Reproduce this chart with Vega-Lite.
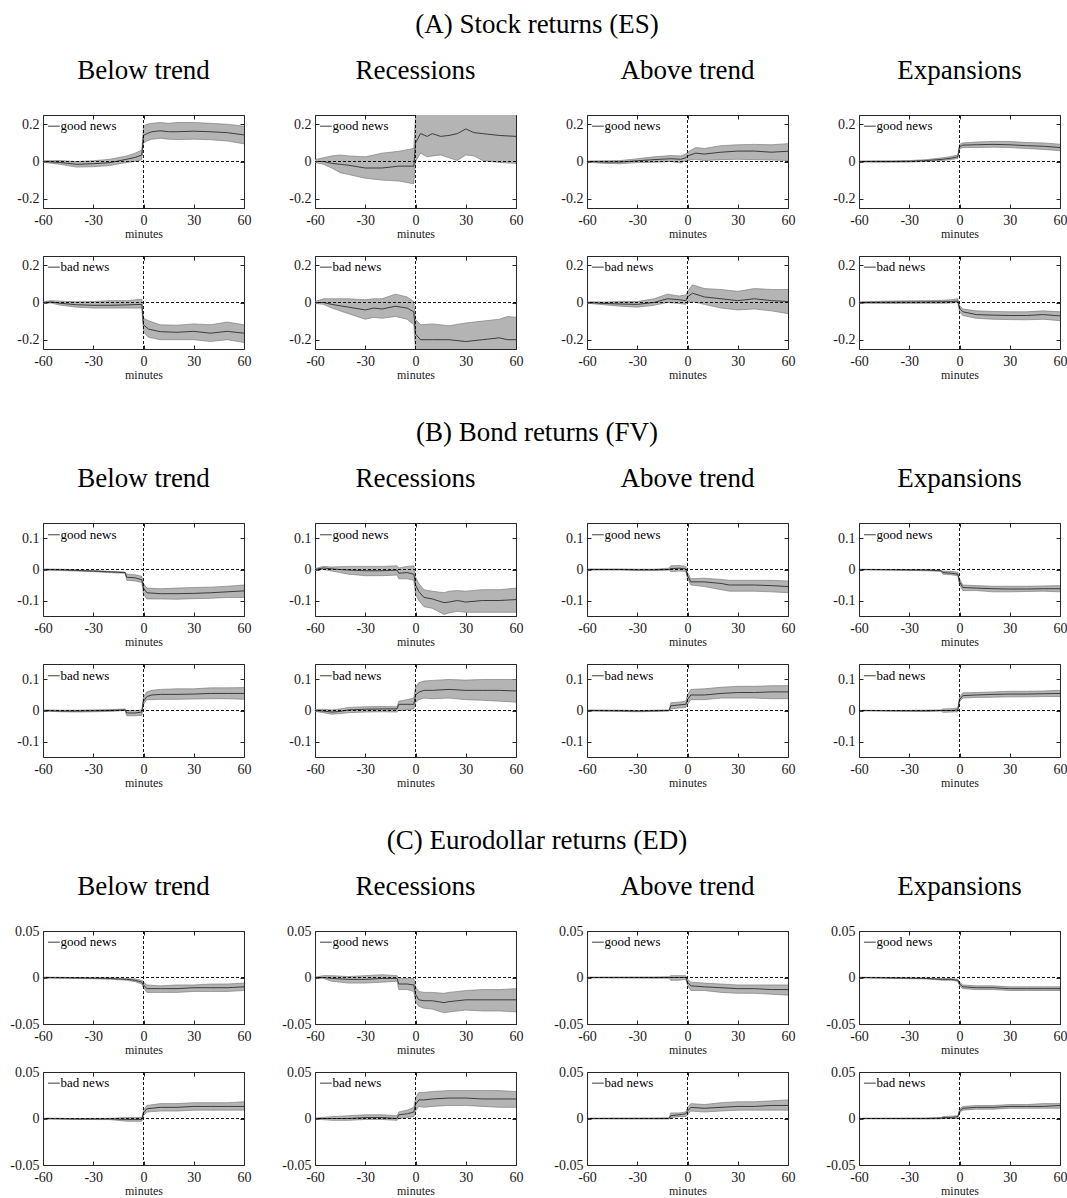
{
"$schema": "https://vega.github.io/schema/vega-lite/v6.json",
"padding": {"left": 6, "top": 11, "right": 5, "bottom": 2},
"background": "white",
"config": {
  "font": "Liberation Serif",
  "locale": {"number": {"decimal": ".", "thousands": ",", "grouping": [3], "currency": ["$", ""], "minus": "-"}},
  "view": {"stroke": "#262626", "strokeWidth": 1},
  "axis": {"domain": false, "grid": false, "ticks": true, "tickSize": -4, "tickColor": "#262626", "labelFont": "Liberation Serif", "labelFontSize": 14, "labelColor": "#1a1a1a", "labelPadding": 9, "labelFlush": false, "labelOverlap": false, "titleFont": "Liberation Serif", "titleFontWeight": "normal", "titleFontSize": 12, "titleColor": "#1a1a1a", "titlePadding": 1},
  "axisY": {"minExtent": 36, "maxExtent": 36, "labelPadding": 8},
  "header": {"labelFont": "Liberation Serif", "labelFontSize": 27, "labelColor": "black", "labelPadding": 30},
  "title": {"font": "Liberation Serif", "fontSize": 27, "fontWeight": "normal", "color": "black", "anchor": "middle", "offset": 18}
},
"spacing": 38,
"datasets": {
"A": [
{"regime":"Below trend","news":"good news","t":-60,"m":0,"lo":-0.004,"hi":0.004},
{"regime":"Below trend","news":"good news","t":-50,"m":-0.005,"lo":-0.015,"hi":0.005},
{"regime":"Below trend","news":"good news","t":-40,"m":-0.015,"lo":-0.03,"hi":0.0},
{"regime":"Below trend","news":"good news","t":-30,"m":-0.012,"lo":-0.028,"hi":0.004},
{"regime":"Below trend","news":"good news","t":-20,"m":-0.006,"lo":-0.022,"hi":0.012},
{"regime":"Below trend","news":"good news","t":-10,"m":0.012,"lo":-0.005,"hi":0.03},
{"regime":"Below trend","news":"good news","t":-5,"m":0.022,"lo":0.0,"hi":0.045},
{"regime":"Below trend","news":"good news","t":-1,"m":0.035,"lo":0.01,"hi":0.062},
{"regime":"Below trend","news":"good news","t":0,"m":0.14,"lo":0.1,"hi":0.19},
{"regime":"Below trend","news":"good news","t":2,"m":0.15,"lo":0.11,"hi":0.2},
{"regime":"Below trend","news":"good news","t":5,"m":0.16,"lo":0.12,"hi":0.205},
{"regime":"Below trend","news":"good news","t":10,"m":0.165,"lo":0.125,"hi":0.21},
{"regime":"Below trend","news":"good news","t":15,"m":0.16,"lo":0.12,"hi":0.205},
{"regime":"Below trend","news":"good news","t":20,"m":0.16,"lo":0.118,"hi":0.21},
{"regime":"Below trend","news":"good news","t":30,"m":0.163,"lo":0.12,"hi":0.21},
{"regime":"Below trend","news":"good news","t":40,"m":0.16,"lo":0.117,"hi":0.205},
{"regime":"Below trend","news":"good news","t":50,"m":0.155,"lo":0.11,"hi":0.2},
{"regime":"Below trend","news":"good news","t":60,"m":0.143,"lo":0.095,"hi":0.19},
{"regime":"Recessions","news":"good news","t":-60,"m":0,"lo":-0.005,"hi":0.01},
{"regime":"Recessions","news":"good news","t":-55,"m":0.0,"lo":-0.015,"hi":0.02},
{"regime":"Recessions","news":"good news","t":-50,"m":-0.01,"lo":-0.035,"hi":0.03},
{"regime":"Recessions","news":"good news","t":-45,"m":-0.015,"lo":-0.06,"hi":0.035},
{"regime":"Recessions","news":"good news","t":-40,"m":-0.02,"lo":-0.07,"hi":0.03},
{"regime":"Recessions","news":"good news","t":-30,"m":-0.035,"lo":-0.09,"hi":0.025},
{"regime":"Recessions","news":"good news","t":-20,"m":-0.035,"lo":-0.1,"hi":0.045},
{"regime":"Recessions","news":"good news","t":-10,"m":-0.025,"lo":-0.105,"hi":0.055},
{"regime":"Recessions","news":"good news","t":-1,"m":-0.025,"lo":-0.12,"hi":0.07},
{"regime":"Recessions","news":"good news","t":0,"m":0.1,"lo":0.0,"hi":0.25},
{"regime":"Recessions","news":"good news","t":3,"m":0.15,"lo":0.045,"hi":0.28},
{"regime":"Recessions","news":"good news","t":7,"m":0.135,"lo":0.025,"hi":0.28},
{"regime":"Recessions","news":"good news","t":10,"m":0.15,"lo":0.03,"hi":0.29},
{"regime":"Recessions","news":"good news","t":15,"m":0.135,"lo":0.035,"hi":0.27},
{"regime":"Recessions","news":"good news","t":20,"m":0.14,"lo":0.02,"hi":0.28},
{"regime":"Recessions","news":"good news","t":25,"m":0.15,"lo":0.005,"hi":0.3},
{"regime":"Recessions","news":"good news","t":30,"m":0.175,"lo":0.035,"hi":0.31},
{"regime":"Recessions","news":"good news","t":35,"m":0.155,"lo":0.03,"hi":0.29},
{"regime":"Recessions","news":"good news","t":40,"m":0.15,"lo":0.005,"hi":0.3},
{"regime":"Recessions","news":"good news","t":50,"m":0.14,"lo":-0.005,"hi":0.29},
{"regime":"Recessions","news":"good news","t":60,"m":0.135,"lo":-0.01,"hi":0.28},
{"regime":"Above trend","news":"good news","t":-60,"m":0,"lo":-0.003,"hi":0.003},
{"regime":"Above trend","news":"good news","t":-50,"m":-0.003,"lo":-0.01,"hi":0.004},
{"regime":"Above trend","news":"good news","t":-40,"m":-0.003,"lo":-0.012,"hi":0.005},
{"regime":"Above trend","news":"good news","t":-30,"m":0.004,"lo":-0.006,"hi":0.015},
{"regime":"Above trend","news":"good news","t":-20,"m":0.01,"lo":-0.004,"hi":0.025},
{"regime":"Above trend","news":"good news","t":-10,"m":0.015,"lo":0.0,"hi":0.032},
{"regime":"Above trend","news":"good news","t":-4,"m":0.012,"lo":-0.008,"hi":0.03},
{"regime":"Above trend","news":"good news","t":-1,"m":0.02,"lo":0.005,"hi":0.04},
{"regime":"Above trend","news":"good news","t":0,"m":0.03,"lo":0.006,"hi":0.05},
{"regime":"Above trend","news":"good news","t":5,"m":0.045,"lo":0.012,"hi":0.075},
{"regime":"Above trend","news":"good news","t":10,"m":0.04,"lo":0.005,"hi":0.07},
{"regime":"Above trend","news":"good news","t":20,"m":0.05,"lo":0.01,"hi":0.085},
{"regime":"Above trend","news":"good news","t":30,"m":0.056,"lo":0.012,"hi":0.09},
{"regime":"Above trend","news":"good news","t":40,"m":0.056,"lo":0.01,"hi":0.092},
{"regime":"Above trend","news":"good news","t":50,"m":0.05,"lo":0.008,"hi":0.09},
{"regime":"Above trend","news":"good news","t":60,"m":0.055,"lo":0.005,"hi":0.096},
{"regime":"Expansions","news":"good news","t":-60,"m":0,"lo":-0.003,"hi":0.003},
{"regime":"Expansions","news":"good news","t":-50,"m":0,"lo":-0.004,"hi":0.004},
{"regime":"Expansions","news":"good news","t":-40,"m":0,"lo":-0.004,"hi":0.004},
{"regime":"Expansions","news":"good news","t":-30,"m":0.001,"lo":-0.003,"hi":0.005},
{"regime":"Expansions","news":"good news","t":-20,"m":0.005,"lo":0.0,"hi":0.01},
{"regime":"Expansions","news":"good news","t":-10,"m":0.012,"lo":0.006,"hi":0.02},
{"regime":"Expansions","news":"good news","t":-5,"m":0.018,"lo":0.01,"hi":0.027},
{"regime":"Expansions","news":"good news","t":-1,"m":0.025,"lo":0.017,"hi":0.035},
{"regime":"Expansions","news":"good news","t":0,"m":0.08,"lo":0.068,"hi":0.092},
{"regime":"Expansions","news":"good news","t":2,"m":0.088,"lo":0.075,"hi":0.1},
{"regime":"Expansions","news":"good news","t":10,"m":0.09,"lo":0.075,"hi":0.105},
{"regime":"Expansions","news":"good news","t":20,"m":0.092,"lo":0.077,"hi":0.108},
{"regime":"Expansions","news":"good news","t":30,"m":0.09,"lo":0.075,"hi":0.108},
{"regime":"Expansions","news":"good news","t":40,"m":0.085,"lo":0.07,"hi":0.102},
{"regime":"Expansions","news":"good news","t":50,"m":0.082,"lo":0.065,"hi":0.1},
{"regime":"Expansions","news":"good news","t":60,"m":0.075,"lo":0.058,"hi":0.093},
{"regime":"Below trend","news":"bad news","t":-60,"m":0,"lo":-0.004,"hi":0.004},
{"regime":"Below trend","news":"bad news","t":-55,"m":0.003,"lo":-0.003,"hi":0.01},
{"regime":"Below trend","news":"bad news","t":-50,"m":-0.004,"lo":-0.014,"hi":0.007},
{"regime":"Below trend","news":"bad news","t":-40,"m":-0.012,"lo":-0.025,"hi":0.004},
{"regime":"Below trend","news":"bad news","t":-30,"m":-0.015,"lo":-0.03,"hi":0.005},
{"regime":"Below trend","news":"bad news","t":-20,"m":-0.015,"lo":-0.03,"hi":0.01},
{"regime":"Below trend","news":"bad news","t":-10,"m":-0.013,"lo":-0.03,"hi":0.01},
{"regime":"Below trend","news":"bad news","t":-1,"m":-0.01,"lo":-0.03,"hi":0.018},
{"regime":"Below trend","news":"bad news","t":0,"m":-0.12,"lo":-0.16,"hi":-0.085},
{"regime":"Below trend","news":"bad news","t":3,"m":-0.143,"lo":-0.187,"hi":-0.098},
{"regime":"Below trend","news":"bad news","t":10,"m":-0.157,"lo":-0.2,"hi":-0.12},
{"regime":"Below trend","news":"bad news","t":20,"m":-0.16,"lo":-0.2,"hi":-0.122},
{"regime":"Below trend","news":"bad news","t":30,"m":-0.155,"lo":-0.2,"hi":-0.115},
{"regime":"Below trend","news":"bad news","t":40,"m":-0.165,"lo":-0.21,"hi":-0.12},
{"regime":"Below trend","news":"bad news","t":50,"m":-0.155,"lo":-0.2,"hi":-0.105},
{"regime":"Below trend","news":"bad news","t":60,"m":-0.165,"lo":-0.215,"hi":-0.12},
{"regime":"Recessions","news":"bad news","t":-60,"m":0,"lo":-0.005,"hi":0.005},
{"regime":"Recessions","news":"bad news","t":-55,"m":0.0,"lo":-0.01,"hi":0.02},
{"regime":"Recessions","news":"bad news","t":-50,"m":-0.01,"lo":-0.03,"hi":0.02},
{"regime":"Recessions","news":"bad news","t":-40,"m":-0.025,"lo":-0.06,"hi":0.02},
{"regime":"Recessions","news":"bad news","t":-30,"m":-0.04,"lo":-0.09,"hi":0.015},
{"regime":"Recessions","news":"bad news","t":-25,"m":-0.03,"lo":-0.08,"hi":0.02},
{"regime":"Recessions","news":"bad news","t":-20,"m":-0.035,"lo":-0.085,"hi":0.02},
{"regime":"Recessions","news":"bad news","t":-12,"m":-0.02,"lo":-0.075,"hi":0.045},
{"regime":"Recessions","news":"bad news","t":-5,"m":-0.03,"lo":-0.09,"hi":0.03},
{"regime":"Recessions","news":"bad news","t":-1,"m":-0.05,"lo":-0.12,"hi":0.005},
{"regime":"Recessions","news":"bad news","t":0,"m":-0.17,"lo":-0.26,"hi":-0.09},
{"regime":"Recessions","news":"bad news","t":3,"m":-0.2,"lo":-0.29,"hi":-0.12},
{"regime":"Recessions","news":"bad news","t":10,"m":-0.2,"lo":-0.28,"hi":-0.115},
{"regime":"Recessions","news":"bad news","t":20,"m":-0.2,"lo":-0.29,"hi":-0.125},
{"regime":"Recessions","news":"bad news","t":30,"m":-0.21,"lo":-0.3,"hi":-0.11},
{"regime":"Recessions","news":"bad news","t":40,"m":-0.2,"lo":-0.3,"hi":-0.1},
{"regime":"Recessions","news":"bad news","t":50,"m":-0.19,"lo":-0.29,"hi":-0.09},
{"regime":"Recessions","news":"bad news","t":55,"m":-0.2,"lo":-0.3,"hi":-0.075},
{"regime":"Recessions","news":"bad news","t":60,"m":-0.2,"lo":-0.3,"hi":-0.08},
{"regime":"Above trend","news":"bad news","t":-60,"m":0,"lo":-0.004,"hi":0.004},
{"regime":"Above trend","news":"bad news","t":-50,"m":-0.005,"lo":-0.012,"hi":0.003},
{"regime":"Above trend","news":"bad news","t":-40,"m":-0.008,"lo":-0.02,"hi":0.005},
{"regime":"Above trend","news":"bad news","t":-30,"m":-0.01,"lo":-0.025,"hi":0.005},
{"regime":"Above trend","news":"bad news","t":-20,"m":0.0,"lo":-0.015,"hi":0.02},
{"regime":"Above trend","news":"bad news","t":-12,"m":0.02,"lo":0.0,"hi":0.045},
{"regime":"Above trend","news":"bad news","t":-5,"m":0.015,"lo":-0.005,"hi":0.035},
{"regime":"Above trend","news":"bad news","t":-1,"m":0.01,"lo":-0.01,"hi":0.04},
{"regime":"Above trend","news":"bad news","t":0,"m":0.03,"lo":0.0,"hi":0.06},
{"regime":"Above trend","news":"bad news","t":3,"m":0.05,"lo":0.005,"hi":0.095},
{"regime":"Above trend","news":"bad news","t":10,"m":0.03,"lo":-0.01,"hi":0.075},
{"regime":"Above trend","news":"bad news","t":20,"m":0.02,"lo":-0.03,"hi":0.07},
{"regime":"Above trend","news":"bad news","t":30,"m":0.01,"lo":-0.04,"hi":0.06},
{"regime":"Above trend","news":"bad news","t":40,"m":0.02,"lo":-0.035,"hi":0.075},
{"regime":"Above trend","news":"bad news","t":50,"m":0.01,"lo":-0.045,"hi":0.07},
{"regime":"Above trend","news":"bad news","t":60,"m":0.005,"lo":-0.06,"hi":0.07},
{"regime":"Expansions","news":"bad news","t":-60,"m":0,"lo":-0.004,"hi":0.004},
{"regime":"Expansions","news":"bad news","t":-40,"m":0.002,"lo":-0.005,"hi":0.008},
{"regime":"Expansions","news":"bad news","t":-20,"m":0.003,"lo":-0.004,"hi":0.01},
{"regime":"Expansions","news":"bad news","t":-10,"m":0.004,"lo":-0.004,"hi":0.012},
{"regime":"Expansions","news":"bad news","t":-5,"m":0.005,"lo":-0.003,"hi":0.015},
{"regime":"Expansions","news":"bad news","t":-1,"m":0.008,"lo":0.0,"hi":0.02},
{"regime":"Expansions","news":"bad news","t":0,"m":-0.03,"lo":-0.05,"hi":-0.015},
{"regime":"Expansions","news":"bad news","t":2,"m":-0.05,"lo":-0.07,"hi":-0.035},
{"regime":"Expansions","news":"bad news","t":10,"m":-0.065,"lo":-0.085,"hi":-0.045},
{"regime":"Expansions","news":"bad news","t":20,"m":-0.068,"lo":-0.09,"hi":-0.048},
{"regime":"Expansions","news":"bad news","t":30,"m":-0.07,"lo":-0.092,"hi":-0.05},
{"regime":"Expansions","news":"bad news","t":40,"m":-0.07,"lo":-0.093,"hi":-0.05},
{"regime":"Expansions","news":"bad news","t":50,"m":-0.065,"lo":-0.09,"hi":-0.045},
{"regime":"Expansions","news":"bad news","t":60,"m":-0.072,"lo":-0.098,"hi":-0.05}
],
"B": [
{"regime":"Below trend","news":"good news","t":-60,"m":0,"lo":-0.002,"hi":0.002},
{"regime":"Below trend","news":"good news","t":-50,"m":-0.001,"lo":-0.003,"hi":0.001},
{"regime":"Below trend","news":"good news","t":-40,"m":-0.003,"lo":-0.005,"hi":-0.001},
{"regime":"Below trend","news":"good news","t":-30,"m":-0.005,"lo":-0.007,"hi":-0.003},
{"regime":"Below trend","news":"good news","t":-20,"m":-0.008,"lo":-0.01,"hi":-0.006},
{"regime":"Below trend","news":"good news","t":-11,"m":-0.01,"lo":-0.012,"hi":-0.008},
{"regime":"Below trend","news":"good news","t":-10,"m":-0.025,"lo":-0.035,"hi":-0.015},
{"regime":"Below trend","news":"good news","t":-5,"m":-0.027,"lo":-0.037,"hi":-0.017},
{"regime":"Below trend","news":"good news","t":-1,"m":-0.033,"lo":-0.042,"hi":-0.022},
{"regime":"Below trend","news":"good news","t":0,"m":-0.06,"lo":-0.08,"hi":-0.045},
{"regime":"Below trend","news":"good news","t":2,"m":-0.075,"lo":-0.095,"hi":-0.06},
{"regime":"Below trend","news":"good news","t":10,"m":-0.078,"lo":-0.095,"hi":-0.062},
{"regime":"Below trend","news":"good news","t":20,"m":-0.078,"lo":-0.096,"hi":-0.06},
{"regime":"Below trend","news":"good news","t":30,"m":-0.077,"lo":-0.094,"hi":-0.058},
{"regime":"Below trend","news":"good news","t":40,"m":-0.075,"lo":-0.093,"hi":-0.057},
{"regime":"Below trend","news":"good news","t":50,"m":-0.072,"lo":-0.09,"hi":-0.054},
{"regime":"Below trend","news":"good news","t":60,"m":-0.069,"lo":-0.09,"hi":-0.05},
{"regime":"Recessions","news":"good news","t":-60,"m":0,"lo":-0.003,"hi":0.003},
{"regime":"Recessions","news":"good news","t":-55,"m":0.005,"lo":0.0,"hi":0.01},
{"regime":"Recessions","news":"good news","t":-50,"m":0.002,"lo":-0.005,"hi":0.008},
{"regime":"Recessions","news":"good news","t":-40,"m":-0.002,"lo":-0.015,"hi":0.01},
{"regime":"Recessions","news":"good news","t":-30,"m":-0.004,"lo":-0.02,"hi":0.01},
{"regime":"Recessions","news":"good news","t":-20,"m":-0.004,"lo":-0.02,"hi":0.01},
{"regime":"Recessions","news":"good news","t":-11,"m":-0.002,"lo":-0.018,"hi":0.012},
{"regime":"Recessions","news":"good news","t":-10,"m":-0.012,"lo":-0.03,"hi":0.005},
{"regime":"Recessions","news":"good news","t":-5,"m":-0.01,"lo":-0.03,"hi":0.01},
{"regime":"Recessions","news":"good news","t":-1,"m":-0.015,"lo":-0.035,"hi":0.012},
{"regime":"Recessions","news":"good news","t":0,"m":-0.05,"lo":-0.08,"hi":-0.025},
{"regime":"Recessions","news":"good news","t":2,"m":-0.071,"lo":-0.1,"hi":-0.045},
{"regime":"Recessions","news":"good news","t":5,"m":-0.09,"lo":-0.12,"hi":-0.065},
{"regime":"Recessions","news":"good news","t":10,"m":-0.095,"lo":-0.125,"hi":-0.07},
{"regime":"Recessions","news":"good news","t":17,"m":-0.107,"lo":-0.145,"hi":-0.075},
{"regime":"Recessions","news":"good news","t":20,"m":-0.105,"lo":-0.14,"hi":-0.07},
{"regime":"Recessions","news":"good news","t":25,"m":-0.1,"lo":-0.135,"hi":-0.068},
{"regime":"Recessions","news":"good news","t":30,"m":-0.105,"lo":-0.138,"hi":-0.07},
{"regime":"Recessions","news":"good news","t":40,"m":-0.1,"lo":-0.138,"hi":-0.065},
{"regime":"Recessions","news":"good news","t":50,"m":-0.1,"lo":-0.138,"hi":-0.065},
{"regime":"Recessions","news":"good news","t":60,"m":-0.097,"lo":-0.138,"hi":-0.06},
{"regime":"Above trend","news":"good news","t":-60,"m":0,"lo":-0.002,"hi":0.002},
{"regime":"Above trend","news":"good news","t":-40,"m":0,"lo":-0.002,"hi":0.002},
{"regime":"Above trend","news":"good news","t":-30,"m":-0.001,"lo":-0.003,"hi":0.001},
{"regime":"Above trend","news":"good news","t":-20,"m":-0.001,"lo":-0.003,"hi":0.001},
{"regime":"Above trend","news":"good news","t":-11,"m":0.0,"lo":-0.002,"hi":0.004},
{"regime":"Above trend","news":"good news","t":-10,"m":0.003,"lo":-0.007,"hi":0.012},
{"regime":"Above trend","news":"good news","t":-5,"m":0.004,"lo":-0.005,"hi":0.013},
{"regime":"Above trend","news":"good news","t":-1,"m":0.002,"lo":-0.006,"hi":0.01},
{"regime":"Above trend","news":"good news","t":0,"m":-0.02,"lo":-0.03,"hi":-0.01},
{"regime":"Above trend","news":"good news","t":2,"m":-0.04,"lo":-0.05,"hi":-0.03},
{"regime":"Above trend","news":"good news","t":10,"m":-0.04,"lo":-0.055,"hi":-0.028},
{"regime":"Above trend","news":"good news","t":20,"m":-0.045,"lo":-0.065,"hi":-0.032},
{"regime":"Above trend","news":"good news","t":25,"m":-0.05,"lo":-0.07,"hi":-0.035},
{"regime":"Above trend","news":"good news","t":30,"m":-0.05,"lo":-0.07,"hi":-0.035},
{"regime":"Above trend","news":"good news","t":40,"m":-0.05,"lo":-0.07,"hi":-0.035},
{"regime":"Above trend","news":"good news","t":50,"m":-0.052,"lo":-0.072,"hi":-0.035},
{"regime":"Above trend","news":"good news","t":60,"m":-0.055,"lo":-0.075,"hi":-0.037},
{"regime":"Expansions","news":"good news","t":-60,"m":0,"lo":-0.001,"hi":0.001},
{"regime":"Expansions","news":"good news","t":-40,"m":-0.001,"lo":-0.002,"hi":0.0},
{"regime":"Expansions","news":"good news","t":-20,"m":-0.002,"lo":-0.004,"hi":0.0},
{"regime":"Expansions","news":"good news","t":-11,"m":-0.004,"lo":-0.006,"hi":-0.002},
{"regime":"Expansions","news":"good news","t":-10,"m":-0.01,"lo":-0.015,"hi":-0.005},
{"regime":"Expansions","news":"good news","t":-5,"m":-0.012,"lo":-0.017,"hi":-0.006},
{"regime":"Expansions","news":"good news","t":-1,"m":-0.015,"lo":-0.02,"hi":-0.009},
{"regime":"Expansions","news":"good news","t":0,"m":-0.04,"lo":-0.05,"hi":-0.03},
{"regime":"Expansions","news":"good news","t":2,"m":-0.058,"lo":-0.068,"hi":-0.05},
{"regime":"Expansions","news":"good news","t":10,"m":-0.06,"lo":-0.068,"hi":-0.052},
{"regime":"Expansions","news":"good news","t":20,"m":-0.062,"lo":-0.072,"hi":-0.054},
{"regime":"Expansions","news":"good news","t":30,"m":-0.063,"lo":-0.072,"hi":-0.054},
{"regime":"Expansions","news":"good news","t":40,"m":-0.063,"lo":-0.071,"hi":-0.054},
{"regime":"Expansions","news":"good news","t":50,"m":-0.062,"lo":-0.07,"hi":-0.053},
{"regime":"Expansions","news":"good news","t":60,"m":-0.062,"lo":-0.072,"hi":-0.052},
{"regime":"Below trend","news":"bad news","t":-60,"m":0,"lo":-0.002,"hi":0.002},
{"regime":"Below trend","news":"bad news","t":-50,"m":-0.002,"lo":-0.004,"hi":0.001},
{"regime":"Below trend","news":"bad news","t":-40,"m":-0.002,"lo":-0.005,"hi":0.001},
{"regime":"Below trend","news":"bad news","t":-30,"m":-0.001,"lo":-0.004,"hi":0.002},
{"regime":"Below trend","news":"bad news","t":-20,"m":0.0,"lo":-0.003,"hi":0.003},
{"regime":"Below trend","news":"bad news","t":-11,"m":0.002,"lo":0.0,"hi":0.005},
{"regime":"Below trend","news":"bad news","t":-10,"m":-0.008,"lo":-0.017,"hi":0.0},
{"regime":"Below trend","news":"bad news","t":-5,"m":-0.008,"lo":-0.017,"hi":0.0},
{"regime":"Below trend","news":"bad news","t":-1,"m":-0.005,"lo":-0.015,"hi":0.002},
{"regime":"Below trend","news":"bad news","t":0,"m":0.03,"lo":0.02,"hi":0.045},
{"regime":"Below trend","news":"bad news","t":2,"m":0.045,"lo":0.035,"hi":0.06},
{"regime":"Below trend","news":"bad news","t":5,"m":0.05,"lo":0.035,"hi":0.065},
{"regime":"Below trend","news":"bad news","t":10,"m":0.052,"lo":0.036,"hi":0.068},
{"regime":"Below trend","news":"bad news","t":20,"m":0.052,"lo":0.036,"hi":0.07},
{"regime":"Below trend","news":"bad news","t":30,"m":0.053,"lo":0.037,"hi":0.07},
{"regime":"Below trend","news":"bad news","t":40,"m":0.055,"lo":0.038,"hi":0.073},
{"regime":"Below trend","news":"bad news","t":50,"m":0.055,"lo":0.038,"hi":0.073},
{"regime":"Below trend","news":"bad news","t":60,"m":0.055,"lo":0.036,"hi":0.074},
{"regime":"Recessions","news":"bad news","t":-60,"m":0,"lo":-0.003,"hi":0.003},
{"regime":"Recessions","news":"bad news","t":-55,"m":-0.002,"lo":-0.007,"hi":0.004},
{"regime":"Recessions","news":"bad news","t":-50,"m":-0.005,"lo":-0.012,"hi":0.002},
{"regime":"Recessions","news":"bad news","t":-45,"m":-0.003,"lo":-0.01,"hi":0.005},
{"regime":"Recessions","news":"bad news","t":-40,"m":0.002,"lo":-0.007,"hi":0.01},
{"regime":"Recessions","news":"bad news","t":-30,"m":0.004,"lo":-0.005,"hi":0.012},
{"regime":"Recessions","news":"bad news","t":-20,"m":0.005,"lo":-0.004,"hi":0.013},
{"regime":"Recessions","news":"bad news","t":-11,"m":0.005,"lo":-0.005,"hi":0.012},
{"regime":"Recessions","news":"bad news","t":-10,"m":0.02,"lo":0.0,"hi":0.03},
{"regime":"Recessions","news":"bad news","t":-5,"m":0.02,"lo":0.002,"hi":0.035},
{"regime":"Recessions","news":"bad news","t":-1,"m":0.02,"lo":0.005,"hi":0.04},
{"regime":"Recessions","news":"bad news","t":0,"m":0.05,"lo":0.025,"hi":0.075},
{"regime":"Recessions","news":"bad news","t":2,"m":0.059,"lo":0.035,"hi":0.09},
{"regime":"Recessions","news":"bad news","t":5,"m":0.065,"lo":0.04,"hi":0.095},
{"regime":"Recessions","news":"bad news","t":10,"m":0.065,"lo":0.038,"hi":0.097},
{"regime":"Recessions","news":"bad news","t":20,"m":0.068,"lo":0.04,"hi":0.1},
{"regime":"Recessions","news":"bad news","t":30,"m":0.065,"lo":0.035,"hi":0.098},
{"regime":"Recessions","news":"bad news","t":40,"m":0.065,"lo":0.033,"hi":0.1},
{"regime":"Recessions","news":"bad news","t":50,"m":0.065,"lo":0.03,"hi":0.1},
{"regime":"Recessions","news":"bad news","t":60,"m":0.063,"lo":0.027,"hi":0.1},
{"regime":"Above trend","news":"bad news","t":-60,"m":0,"lo":-0.002,"hi":0.002},
{"regime":"Above trend","news":"bad news","t":-40,"m":-0.001,"lo":-0.003,"hi":0.001},
{"regime":"Above trend","news":"bad news","t":-30,"m":-0.002,"lo":-0.004,"hi":0.0},
{"regime":"Above trend","news":"bad news","t":-20,"m":-0.001,"lo":-0.003,"hi":0.001},
{"regime":"Above trend","news":"bad news","t":-11,"m":0.0,"lo":-0.002,"hi":0.002},
{"regime":"Above trend","news":"bad news","t":-10,"m":0.015,"lo":0.005,"hi":0.025},
{"regime":"Above trend","news":"bad news","t":-5,"m":0.018,"lo":0.008,"hi":0.027},
{"regime":"Above trend","news":"bad news","t":-1,"m":0.02,"lo":0.01,"hi":0.03},
{"regime":"Above trend","news":"bad news","t":0,"m":0.035,"lo":0.02,"hi":0.05},
{"regime":"Above trend","news":"bad news","t":2,"m":0.05,"lo":0.035,"hi":0.068},
{"regime":"Above trend","news":"bad news","t":10,"m":0.05,"lo":0.035,"hi":0.07},
{"regime":"Above trend","news":"bad news","t":20,"m":0.055,"lo":0.04,"hi":0.075},
{"regime":"Above trend","news":"bad news","t":30,"m":0.058,"lo":0.04,"hi":0.078},
{"regime":"Above trend","news":"bad news","t":40,"m":0.058,"lo":0.04,"hi":0.078},
{"regime":"Above trend","news":"bad news","t":50,"m":0.06,"lo":0.038,"hi":0.08},
{"regime":"Above trend","news":"bad news","t":60,"m":0.06,"lo":0.038,"hi":0.08},
{"regime":"Expansions","news":"bad news","t":-60,"m":0,"lo":-0.001,"hi":0.001},
{"regime":"Expansions","news":"bad news","t":-40,"m":-0.001,"lo":-0.002,"hi":0.0},
{"regime":"Expansions","news":"bad news","t":-20,"m":-0.001,"lo":-0.003,"hi":0.001},
{"regime":"Expansions","news":"bad news","t":-11,"m":0.0,"lo":-0.002,"hi":0.002},
{"regime":"Expansions","news":"bad news","t":-10,"m":0.0,"lo":-0.006,"hi":0.005},
{"regime":"Expansions","news":"bad news","t":-5,"m":0.0,"lo":-0.005,"hi":0.006},
{"regime":"Expansions","news":"bad news","t":-1,"m":0.002,"lo":-0.004,"hi":0.008},
{"regime":"Expansions","news":"bad news","t":0,"m":0.035,"lo":0.028,"hi":0.043},
{"regime":"Expansions","news":"bad news","t":2,"m":0.048,"lo":0.04,"hi":0.057},
{"regime":"Expansions","news":"bad news","t":10,"m":0.05,"lo":0.042,"hi":0.058},
{"regime":"Expansions","news":"bad news","t":20,"m":0.052,"lo":0.043,"hi":0.06},
{"regime":"Expansions","news":"bad news","t":30,"m":0.053,"lo":0.044,"hi":0.062},
{"regime":"Expansions","news":"bad news","t":40,"m":0.053,"lo":0.044,"hi":0.062},
{"regime":"Expansions","news":"bad news","t":50,"m":0.054,"lo":0.045,"hi":0.063},
{"regime":"Expansions","news":"bad news","t":60,"m":0.055,"lo":0.045,"hi":0.065}
],
"C": [
{"regime":"Below trend","news":"good news","t":-60,"m":0,"lo":-0.0005,"hi":0.0005},
{"regime":"Below trend","news":"good news","t":-40,"m":-0.0005,"lo":-0.001,"hi":0.0},
{"regime":"Below trend","news":"good news","t":-20,"m":-0.001,"lo":-0.0018,"hi":-0.0002},
{"regime":"Below trend","news":"good news","t":-10,"m":-0.002,"lo":-0.003,"hi":-0.001},
{"regime":"Below trend","news":"good news","t":-5,"m":-0.003,"lo":-0.0045,"hi":-0.0015},
{"regime":"Below trend","news":"good news","t":-1,"m":-0.005,"lo":-0.007,"hi":-0.003},
{"regime":"Below trend","news":"good news","t":0,"m":-0.008,"lo":-0.011,"hi":-0.005},
{"regime":"Below trend","news":"good news","t":2,"m":-0.012,"lo":-0.016,"hi":-0.008},
{"regime":"Below trend","news":"good news","t":10,"m":-0.012,"lo":-0.016,"hi":-0.009},
{"regime":"Below trend","news":"good news","t":20,"m":-0.012,"lo":-0.016,"hi":-0.008},
{"regime":"Below trend","news":"good news","t":30,"m":-0.011,"lo":-0.015,"hi":-0.008},
{"regime":"Below trend","news":"good news","t":40,"m":-0.011,"lo":-0.015,"hi":-0.007},
{"regime":"Below trend","news":"good news","t":50,"m":-0.011,"lo":-0.015,"hi":-0.007},
{"regime":"Below trend","news":"good news","t":60,"m":-0.01,"lo":-0.014,"hi":-0.006},
{"regime":"Recessions","news":"good news","t":-60,"m":0,"lo":-0.0005,"hi":0.0005},
{"regime":"Recessions","news":"good news","t":-55,"m":0.0,"lo":-0.001,"hi":0.002},
{"regime":"Recessions","news":"good news","t":-50,"m":-0.001,"lo":-0.004,"hi":0.002},
{"regime":"Recessions","news":"good news","t":-40,"m":-0.002,"lo":-0.006,"hi":0.001},
{"regime":"Recessions","news":"good news","t":-30,"m":-0.002,"lo":-0.006,"hi":0.002},
{"regime":"Recessions","news":"good news","t":-20,"m":-0.001,"lo":-0.005,"hi":0.003},
{"regime":"Recessions","news":"good news","t":-11,"m":-0.001,"lo":-0.004,"hi":0.002},
{"regime":"Recessions","news":"good news","t":-10,"m":-0.007,"lo":-0.013,"hi":-0.001},
{"regime":"Recessions","news":"good news","t":-5,"m":-0.007,"lo":-0.013,"hi":-0.001},
{"regime":"Recessions","news":"good news","t":-1,"m":-0.008,"lo":-0.015,"hi":-0.001},
{"regime":"Recessions","news":"good news","t":0,"m":-0.018,"lo":-0.026,"hi":-0.01},
{"regime":"Recessions","news":"good news","t":2,"m":-0.024,"lo":-0.031,"hi":-0.015},
{"regime":"Recessions","news":"good news","t":5,"m":-0.025,"lo":-0.033,"hi":-0.016},
{"regime":"Recessions","news":"good news","t":10,"m":-0.025,"lo":-0.034,"hi":-0.016},
{"regime":"Recessions","news":"good news","t":17,"m":-0.027,"lo":-0.038,"hi":-0.017},
{"regime":"Recessions","news":"good news","t":20,"m":-0.026,"lo":-0.037,"hi":-0.016},
{"regime":"Recessions","news":"good news","t":30,"m":-0.024,"lo":-0.035,"hi":-0.014},
{"regime":"Recessions","news":"good news","t":40,"m":-0.024,"lo":-0.036,"hi":-0.013},
{"regime":"Recessions","news":"good news","t":50,"m":-0.024,"lo":-0.036,"hi":-0.013},
{"regime":"Recessions","news":"good news","t":60,"m":-0.024,"lo":-0.037,"hi":-0.012},
{"regime":"Above trend","news":"good news","t":-60,"m":0,"lo":-0.0005,"hi":0.0005},
{"regime":"Above trend","news":"good news","t":-40,"m":0,"lo":-0.0006,"hi":0.0006},
{"regime":"Above trend","news":"good news","t":-20,"m":0,"lo":-0.0008,"hi":0.0006},
{"regime":"Above trend","news":"good news","t":-11,"m":0.0,"lo":-0.0008,"hi":0.0008},
{"regime":"Above trend","news":"good news","t":-10,"m":0.0,"lo":-0.003,"hi":0.002},
{"regime":"Above trend","news":"good news","t":-5,"m":0.0,"lo":-0.003,"hi":0.002},
{"regime":"Above trend","news":"good news","t":-1,"m":0.0,"lo":-0.002,"hi":0.002},
{"regime":"Above trend","news":"good news","t":0,"m":-0.005,"lo":-0.008,"hi":-0.002},
{"regime":"Above trend","news":"good news","t":2,"m":-0.009,"lo":-0.014,"hi":-0.005},
{"regime":"Above trend","news":"good news","t":10,"m":-0.01,"lo":-0.014,"hi":-0.006},
{"regime":"Above trend","news":"good news","t":20,"m":-0.011,"lo":-0.016,"hi":-0.007},
{"regime":"Above trend","news":"good news","t":30,"m":-0.012,"lo":-0.017,"hi":-0.008},
{"regime":"Above trend","news":"good news","t":40,"m":-0.012,"lo":-0.017,"hi":-0.008},
{"regime":"Above trend","news":"good news","t":50,"m":-0.013,"lo":-0.018,"hi":-0.008},
{"regime":"Above trend","news":"good news","t":60,"m":-0.013,"lo":-0.019,"hi":-0.008},
{"regime":"Expansions","news":"good news","t":-60,"m":0,"lo":-0.0004,"hi":0.0004},
{"regime":"Expansions","news":"good news","t":-40,"m":-0.0005,"lo":-0.001,"hi":0.0},
{"regime":"Expansions","news":"good news","t":-20,"m":-0.001,"lo":-0.0015,"hi":-0.0005},
{"regime":"Expansions","news":"good news","t":-10,"m":-0.002,"lo":-0.003,"hi":-0.001},
{"regime":"Expansions","news":"good news","t":-5,"m":-0.002,"lo":-0.003,"hi":-0.001},
{"regime":"Expansions","news":"good news","t":-1,"m":-0.003,"lo":-0.004,"hi":-0.002},
{"regime":"Expansions","news":"good news","t":0,"m":-0.007,"lo":-0.009,"hi":-0.005},
{"regime":"Expansions","news":"good news","t":2,"m":-0.01,"lo":-0.012,"hi":-0.008},
{"regime":"Expansions","news":"good news","t":10,"m":-0.011,"lo":-0.013,"hi":-0.009},
{"regime":"Expansions","news":"good news","t":20,"m":-0.011,"lo":-0.013,"hi":-0.009},
{"regime":"Expansions","news":"good news","t":30,"m":-0.012,"lo":-0.014,"hi":-0.01},
{"regime":"Expansions","news":"good news","t":40,"m":-0.012,"lo":-0.014,"hi":-0.01},
{"regime":"Expansions","news":"good news","t":50,"m":-0.012,"lo":-0.014,"hi":-0.01},
{"regime":"Expansions","news":"good news","t":60,"m":-0.012,"lo":-0.014,"hi":-0.01},
{"regime":"Below trend","news":"bad news","t":-60,"m":0,"lo":-0.0005,"hi":0.0005},
{"regime":"Below trend","news":"bad news","t":-40,"m":-0.0005,"lo":-0.001,"hi":0.0},
{"regime":"Below trend","news":"bad news","t":-20,"m":-0.0005,"lo":-0.0012,"hi":0.0002},
{"regime":"Below trend","news":"bad news","t":-10,"m":-0.001,"lo":-0.003,"hi":0.001},
{"regime":"Below trend","news":"bad news","t":-5,"m":-0.001,"lo":-0.003,"hi":0.001},
{"regime":"Below trend","news":"bad news","t":-1,"m":-0.001,"lo":-0.003,"hi":0.001},
{"regime":"Below trend","news":"bad news","t":0,"m":0.006,"lo":0.003,"hi":0.009},
{"regime":"Below trend","news":"bad news","t":2,"m":0.0104,"lo":0.007,"hi":0.014},
{"regime":"Below trend","news":"bad news","t":10,"m":0.012,"lo":0.008,"hi":0.016},
{"regime":"Below trend","news":"bad news","t":20,"m":0.012,"lo":0.008,"hi":0.016},
{"regime":"Below trend","news":"bad news","t":30,"m":0.013,"lo":0.009,"hi":0.017},
{"regime":"Below trend","news":"bad news","t":40,"m":0.013,"lo":0.009,"hi":0.017},
{"regime":"Below trend","news":"bad news","t":50,"m":0.013,"lo":0.009,"hi":0.017},
{"regime":"Below trend","news":"bad news","t":60,"m":0.013,"lo":0.009,"hi":0.018},
{"regime":"Recessions","news":"bad news","t":-60,"m":0,"lo":-0.0005,"hi":0.0005},
{"regime":"Recessions","news":"bad news","t":-50,"m":0.0,"lo":-0.002,"hi":0.002},
{"regime":"Recessions","news":"bad news","t":-40,"m":0.0,"lo":-0.002,"hi":0.003},
{"regime":"Recessions","news":"bad news","t":-30,"m":0.001,"lo":-0.001,"hi":0.004},
{"regime":"Recessions","news":"bad news","t":-20,"m":0.001,"lo":-0.001,"hi":0.004},
{"regime":"Recessions","news":"bad news","t":-11,"m":0.0,"lo":-0.002,"hi":0.003},
{"regime":"Recessions","news":"bad news","t":-10,"m":0.004,"lo":0.0,"hi":0.007},
{"regime":"Recessions","news":"bad news","t":-5,"m":0.005,"lo":0.001,"hi":0.009},
{"regime":"Recessions","news":"bad news","t":-1,"m":0.007,"lo":0.002,"hi":0.012},
{"regime":"Recessions","news":"bad news","t":0,"m":0.015,"lo":0.008,"hi":0.022},
{"regime":"Recessions","news":"bad news","t":2,"m":0.02,"lo":0.013,"hi":0.028},
{"regime":"Recessions","news":"bad news","t":5,"m":0.02,"lo":0.012,"hi":0.028},
{"regime":"Recessions","news":"bad news","t":10,"m":0.021,"lo":0.013,"hi":0.029},
{"regime":"Recessions","news":"bad news","t":20,"m":0.022,"lo":0.014,"hi":0.03},
{"regime":"Recessions","news":"bad news","t":30,"m":0.022,"lo":0.014,"hi":0.03},
{"regime":"Recessions","news":"bad news","t":40,"m":0.021,"lo":0.013,"hi":0.03},
{"regime":"Recessions","news":"bad news","t":50,"m":0.021,"lo":0.012,"hi":0.03},
{"regime":"Recessions","news":"bad news","t":60,"m":0.021,"lo":0.012,"hi":0.029},
{"regime":"Above trend","news":"bad news","t":-60,"m":0,"lo":-0.0005,"hi":0.0005},
{"regime":"Above trend","news":"bad news","t":-40,"m":0,"lo":-0.0006,"hi":0.0006},
{"regime":"Above trend","news":"bad news","t":-20,"m":0,"lo":-0.0006,"hi":0.0006},
{"regime":"Above trend","news":"bad news","t":-11,"m":0.0,"lo":-0.0006,"hi":0.0008},
{"regime":"Above trend","news":"bad news","t":-10,"m":0.003,"lo":0.001,"hi":0.006},
{"regime":"Above trend","news":"bad news","t":-5,"m":0.004,"lo":0.002,"hi":0.006},
{"regime":"Above trend","news":"bad news","t":-1,"m":0.005,"lo":0.002,"hi":0.007},
{"regime":"Above trend","news":"bad news","t":0,"m":0.008,"lo":0.004,"hi":0.012},
{"regime":"Above trend","news":"bad news","t":2,"m":0.012,"lo":0.008,"hi":0.016},
{"regime":"Above trend","news":"bad news","t":10,"m":0.011,"lo":0.007,"hi":0.015},
{"regime":"Above trend","news":"bad news","t":20,"m":0.012,"lo":0.008,"hi":0.017},
{"regime":"Above trend","news":"bad news","t":30,"m":0.013,"lo":0.009,"hi":0.018},
{"regime":"Above trend","news":"bad news","t":40,"m":0.013,"lo":0.009,"hi":0.018},
{"regime":"Above trend","news":"bad news","t":50,"m":0.014,"lo":0.009,"hi":0.019},
{"regime":"Above trend","news":"bad news","t":60,"m":0.014,"lo":0.009,"hi":0.02},
{"regime":"Expansions","news":"bad news","t":-60,"m":0,"lo":-0.0004,"hi":0.0004},
{"regime":"Expansions","news":"bad news","t":-40,"m":0,"lo":-0.0005,"hi":0.0005},
{"regime":"Expansions","news":"bad news","t":-20,"m":0,"lo":-0.0006,"hi":0.0006},
{"regime":"Expansions","news":"bad news","t":-11,"m":0.0004,"lo":-0.0004,"hi":0.001},
{"regime":"Expansions","news":"bad news","t":-10,"m":0.001,"lo":0.0,"hi":0.002},
{"regime":"Expansions","news":"bad news","t":-5,"m":0.001,"lo":0.0,"hi":0.0025},
{"regime":"Expansions","news":"bad news","t":-1,"m":0.002,"lo":0.0,"hi":0.003},
{"regime":"Expansions","news":"bad news","t":0,"m":0.008,"lo":0.006,"hi":0.01},
{"regime":"Expansions","news":"bad news","t":2,"m":0.011,"lo":0.009,"hi":0.013},
{"regime":"Expansions","news":"bad news","t":10,"m":0.012,"lo":0.01,"hi":0.014},
{"regime":"Expansions","news":"bad news","t":20,"m":0.012,"lo":0.01,"hi":0.014},
{"regime":"Expansions","news":"bad news","t":30,"m":0.013,"lo":0.011,"hi":0.015},
{"regime":"Expansions","news":"bad news","t":40,"m":0.013,"lo":0.011,"hi":0.015},
{"regime":"Expansions","news":"bad news","t":50,"m":0.013,"lo":0.011,"hi":0.016},
{"regime":"Expansions","news":"bad news","t":60,"m":0.014,"lo":0.011,"hi":0.016}
]
},
"vconcat": [
{
 "data": {"name": "A"},
 "title": {"text": "(A) Stock returns (ES)"},
 "facet": {
   "column": {"field": "regime", "type": "nominal", "sort": ["Below trend", "Recessions", "Above trend", "Expansions"], "header": {"title": null}},
   "row": {"field": "news", "type": "nominal", "sort": ["good news", "bad news"], "header": {"title": null, "labels": false}}
 },
 "spacing": {"row": 48, "column": 71},
 "bounds": "flush",
 "resolve": {"axis": {"x": "independent", "y": "independent"}},
 "spec": {
  "width": 201, "height": 93,
  "resolve": {"axis": {"x": "independent", "y": "independent"}},
  "layer": [
   {"mark": {"type": "area", "color": "#b4b4b4", "clip": true},
    "encoding": {
      "x": {"field": "t", "type": "quantitative", "scale": {"domain": [-60, 60], "nice": false, "zero": false}, "axis": {"values": [-60, -30, 0, 30, 60], "title": "minutes", "format": "d"}},
      "y": {"field": "lo", "type": "quantitative", "scale": {"domain": [-0.25, 0.25], "nice": false, "zero": false}, "axis": {"values": [-0.2, 0, 0.2], "title": null, "format": "~g"}},
      "y2": {"field": "hi"}}},
   {"mark": {"type": "line", "color": "#707070", "strokeWidth": 0.6, "clip": true}, "encoding": {"x": {"field": "t", "type": "quantitative", "axis": null}, "y": {"field": "lo", "type": "quantitative", "axis": null}}},
   {"mark": {"type": "line", "color": "#707070", "strokeWidth": 0.6, "clip": true}, "encoding": {"x": {"field": "t", "type": "quantitative", "axis": null}, "y": {"field": "hi", "type": "quantitative", "axis": null}}},
   {"mark": {"type": "line", "color": "#3c3c3c", "strokeWidth": 1, "clip": true}, "encoding": {
      "x": {"field": "t", "type": "quantitative", "axis": {"orient": "top", "labels": false, "title": null, "values": [-60, -30, 0, 30, 60], "minExtent": 0, "maxExtent": 0}},
      "y": {"field": "m", "type": "quantitative", "axis": {"orient": "right", "labels": false, "title": null, "values": [-0.2, 0, 0.2], "minExtent": 0, "maxExtent": 0}}}},
   {"transform": [{"filter": "datum.t == -60"}], "mark": {"type": "rule", "color": "black", "strokeDash": [3, 2], "strokeWidth": 0.9}, "encoding": {"y": {"datum": 0, "axis": null}}},
   {"transform": [{"filter": "datum.t == -60"}], "mark": {"type": "rule", "color": "black", "strokeDash": [3, 2], "strokeWidth": 0.9}, "encoding": {"x": {"datum": 0, "axis": null}}},
   {"transform": [{"filter": "datum.t == -60"}], "mark": {"type": "rule", "color": "#3c3c3c", "strokeWidth": 1}, "encoding": {"x": {"datum": -57, "axis": null}, "x2": {"datum": -50}, "y": {"datum": 0.19, "axis": null}}},
   {"transform": [{"filter": "datum.t == -60"}], "mark": {"type": "text", "align": "left", "baseline": "middle", "fontSize": 13, "font": "Liberation Serif", "color": "black"}, "encoding": {"x": {"datum": -49.5, "axis": null}, "y": {"datum": 0.19, "axis": null}, "text": {"field": "news"}}}
  ]
 }
},
{
 "data": {"name": "B"},
 "title": {"text": "(B) Bond returns (FV)"},
 "facet": {
   "column": {"field": "regime", "type": "nominal", "sort": ["Below trend", "Recessions", "Above trend", "Expansions"], "header": {"title": null}},
   "row": {"field": "news", "type": "nominal", "sort": ["good news", "bad news"], "header": {"title": null, "labels": false}}
 },
 "spacing": {"row": 48, "column": 71},
 "bounds": "flush",
 "resolve": {"axis": {"x": "independent", "y": "independent"}},
 "spec": {
  "width": 201, "height": 93,
  "resolve": {"axis": {"x": "independent", "y": "independent"}},
  "layer": [
   {"mark": {"type": "area", "color": "#b4b4b4", "clip": true},
    "encoding": {
      "x": {"field": "t", "type": "quantitative", "scale": {"domain": [-60, 60], "nice": false, "zero": false}, "axis": {"values": [-60, -30, 0, 30, 60], "title": "minutes", "format": "d"}},
      "y": {"field": "lo", "type": "quantitative", "scale": {"domain": [-0.15, 0.15], "nice": false, "zero": false}, "axis": {"values": [-0.1, 0, 0.1], "title": null, "format": "~g"}},
      "y2": {"field": "hi"}}},
   {"mark": {"type": "line", "color": "#707070", "strokeWidth": 0.6, "clip": true}, "encoding": {"x": {"field": "t", "type": "quantitative", "axis": null}, "y": {"field": "lo", "type": "quantitative", "axis": null}}},
   {"mark": {"type": "line", "color": "#707070", "strokeWidth": 0.6, "clip": true}, "encoding": {"x": {"field": "t", "type": "quantitative", "axis": null}, "y": {"field": "hi", "type": "quantitative", "axis": null}}},
   {"mark": {"type": "line", "color": "#3c3c3c", "strokeWidth": 1, "clip": true}, "encoding": {
      "x": {"field": "t", "type": "quantitative", "axis": {"orient": "top", "labels": false, "title": null, "values": [-60, -30, 0, 30, 60], "minExtent": 0, "maxExtent": 0}},
      "y": {"field": "m", "type": "quantitative", "axis": {"orient": "right", "labels": false, "title": null, "values": [-0.1, 0, 0.1], "minExtent": 0, "maxExtent": 0}}}},
   {"transform": [{"filter": "datum.t == -60"}], "mark": {"type": "rule", "color": "black", "strokeDash": [3, 2], "strokeWidth": 0.9}, "encoding": {"y": {"datum": 0, "axis": null}}},
   {"transform": [{"filter": "datum.t == -60"}], "mark": {"type": "rule", "color": "black", "strokeDash": [3, 2], "strokeWidth": 0.9}, "encoding": {"x": {"datum": 0, "axis": null}}},
   {"transform": [{"filter": "datum.t == -60"}], "mark": {"type": "rule", "color": "#3c3c3c", "strokeWidth": 1}, "encoding": {"x": {"datum": -57, "axis": null}, "x2": {"datum": -50}, "y": {"datum": 0.112, "axis": null}}},
   {"transform": [{"filter": "datum.t == -60"}], "mark": {"type": "text", "align": "left", "baseline": "middle", "fontSize": 13, "font": "Liberation Serif", "color": "black"}, "encoding": {"x": {"datum": -49.5, "axis": null}, "y": {"datum": 0.112, "axis": null}, "text": {"field": "news"}}}
  ]
 }
},
{
 "data": {"name": "C"},
 "title": {"text": "(C) Eurodollar returns (ED)"},
 "facet": {
   "column": {"field": "regime", "type": "nominal", "sort": ["Below trend", "Recessions", "Above trend", "Expansions"], "header": {"title": null}},
   "row": {"field": "news", "type": "nominal", "sort": ["good news", "bad news"], "header": {"title": null, "labels": false}}
 },
 "spacing": {"row": 48, "column": 71},
 "bounds": "flush",
 "resolve": {"axis": {"x": "independent", "y": "independent"}},
 "spec": {
  "width": 201, "height": 93,
  "resolve": {"axis": {"x": "independent", "y": "independent"}},
  "layer": [
   {"mark": {"type": "area", "color": "#b4b4b4", "clip": true},
    "encoding": {
      "x": {"field": "t", "type": "quantitative", "scale": {"domain": [-60, 60], "nice": false, "zero": false}, "axis": {"values": [-60, -30, 0, 30, 60], "title": "minutes", "format": "d"}},
      "y": {"field": "lo", "type": "quantitative", "scale": {"domain": [-0.05, 0.05], "nice": false, "zero": false}, "axis": {"values": [-0.05, 0, 0.05], "title": null, "format": "~g"}},
      "y2": {"field": "hi"}}},
   {"mark": {"type": "line", "color": "#707070", "strokeWidth": 0.6, "clip": true}, "encoding": {"x": {"field": "t", "type": "quantitative", "axis": null}, "y": {"field": "lo", "type": "quantitative", "axis": null}}},
   {"mark": {"type": "line", "color": "#707070", "strokeWidth": 0.6, "clip": true}, "encoding": {"x": {"field": "t", "type": "quantitative", "axis": null}, "y": {"field": "hi", "type": "quantitative", "axis": null}}},
   {"mark": {"type": "line", "color": "#3c3c3c", "strokeWidth": 1, "clip": true}, "encoding": {
      "x": {"field": "t", "type": "quantitative", "axis": {"orient": "top", "labels": false, "title": null, "values": [-60, -30, 0, 30, 60], "minExtent": 0, "maxExtent": 0}},
      "y": {"field": "m", "type": "quantitative", "axis": {"orient": "right", "labels": false, "title": null, "values": [-0.05, 0, 0.05], "minExtent": 0, "maxExtent": 0}}}},
   {"transform": [{"filter": "datum.t == -60"}], "mark": {"type": "rule", "color": "black", "strokeDash": [3, 2], "strokeWidth": 0.9}, "encoding": {"y": {"datum": 0, "axis": null}}},
   {"transform": [{"filter": "datum.t == -60"}], "mark": {"type": "rule", "color": "black", "strokeDash": [3, 2], "strokeWidth": 0.9}, "encoding": {"x": {"datum": 0, "axis": null}}},
   {"transform": [{"filter": "datum.t == -60"}], "mark": {"type": "rule", "color": "#3c3c3c", "strokeWidth": 1}, "encoding": {"x": {"datum": -57, "axis": null}, "x2": {"datum": -50}, "y": {"datum": 0.038, "axis": null}}},
   {"transform": [{"filter": "datum.t == -60"}], "mark": {"type": "text", "align": "left", "baseline": "middle", "fontSize": 13, "font": "Liberation Serif", "color": "black"}, "encoding": {"x": {"datum": -49.5, "axis": null}, "y": {"datum": 0.038, "axis": null}, "text": {"field": "news"}}}
  ]
 }
}
]
}
